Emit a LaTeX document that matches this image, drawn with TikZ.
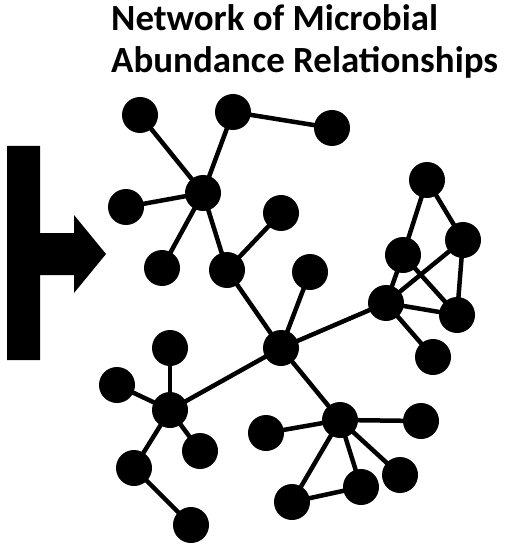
\documentclass[tikz,border=0pt]{standalone}
\usepackage{fontspec}
\setmainfont{Carlito}
\begin{document}
\begin{tikzpicture}[x=1pt,y=-1pt,
  dot/.style={circle,fill=black,minimum size=36pt,inner sep=0pt},
  link/.style={line width=4.5pt,black},
  title/.style={anchor=base west,inner sep=0pt,font=\bfseries\fontsize{36.9}{36.9}\selectfont}]
\useasboundingbox[fill=white] (0,0) rectangle (505,545);
% arrow
\fill[black] (7,146) -- (40,146) -- (40,233) -- (74,233) -- (74,215) -- (106,254) -- (74,293) -- (74,275) -- (40,275) -- (40,360) -- (7,360) -- cycle;
% title
\node[title] (t1) at (111,31) {Network of Microbial};
\node[title] (t2) at (111,73) {Abundance Relationships};
% nodes
\node[dot] (a) at (140,115) {};
\node[dot] (b) at (233,112) {};
\node[dot] (c) at (332,128) {};
\node[dot] (h1) at (203,193) {};
\node[dot] (l1) at (126,207) {};
\node[dot] (d) at (281,213) {};
\node[dot] (e) at (162,268) {};
\node[dot] (f) at (227,270) {};
\node[dot] (g) at (310,272) {};
\node[dot] (cen) at (281,348) {};
\node[dot] (rt) at (427,180) {};
\node[dot] (rr) at (463,240) {};
\node[dot] (rm) at (403,255) {};
\node[dot] (rh) at (386,303) {};
\node[dot] (rb) at (457,315) {};
\node[dot] (rd) at (433,357) {};
\node[dot] (lh) at (170,410) {};
\node[dot] (lu) at (170,348) {};
\node[dot] (ll) at (117,385) {};
\node[dot] (lr) at (200,451) {};
\node[dot] (lb) at (134,468) {};
\node[dot] (lbb) at (191,525) {};
\node[dot] (bh) at (340,420) {};
\node[dot] (b1) at (266,433) {};
\node[dot] (b2) at (421,421) {};
\node[dot] (b3) at (400,475) {};
\node[dot] (b4) at (361,487) {};
\node[dot] (b5) at (292,502) {};
% links
\draw[link] (a.center) -- (h1.center);
\draw[link] (b.center) -- (h1.center);
\draw[link] (b.center) -- (c.center);
\draw[link] (l1.center) -- (h1.center);
\draw[link] (h1.center) -- (e.center);
\draw[link] (h1.center) -- (f.center);
\draw[link] (f.center) -- (d.center);
\draw[link] (f.center) -- (cen.center);
\draw[link] (g.center) -- (cen.center);
\draw[link] (cen.center) -- (rh.center);
\draw[link] (rt.center) -- (rm.center);
\draw[link] (rt.center) -- (rr.center);
\draw[link] (rr.center) -- (rb.center);
\draw[link] (rm.center) -- (rb.center);
\draw[link] (rr.center) -- (rh.center);
\draw[link] (rm.center) -- (rh.center);
\draw[link] (rh.center) -- (rb.center);
\draw[link] (rh.center) -- (rd.center);
\draw[link] (cen.center) -- (lh.center);
\draw[link] (lh.center) -- (lu.center);
\draw[link] (lh.center) -- (ll.center);
\draw[link] (lh.center) -- (lr.center);
\draw[link] (lh.center) -- (lb.center);
\draw[link] (lb.center) -- (lbb.center);
\draw[link] (cen.center) -- (bh.center);
\draw[link] (bh.center) -- (b1.center);
\draw[link] (bh.center) -- (b2.center);
\draw[link] (bh.center) -- (b3.center);
\draw[link] (bh.center) -- (b4.center);
\draw[link] (bh.center) -- (b5.center);
\draw[link] (b5.center) -- (b4.center);
\end{tikzpicture}
\end{document}
